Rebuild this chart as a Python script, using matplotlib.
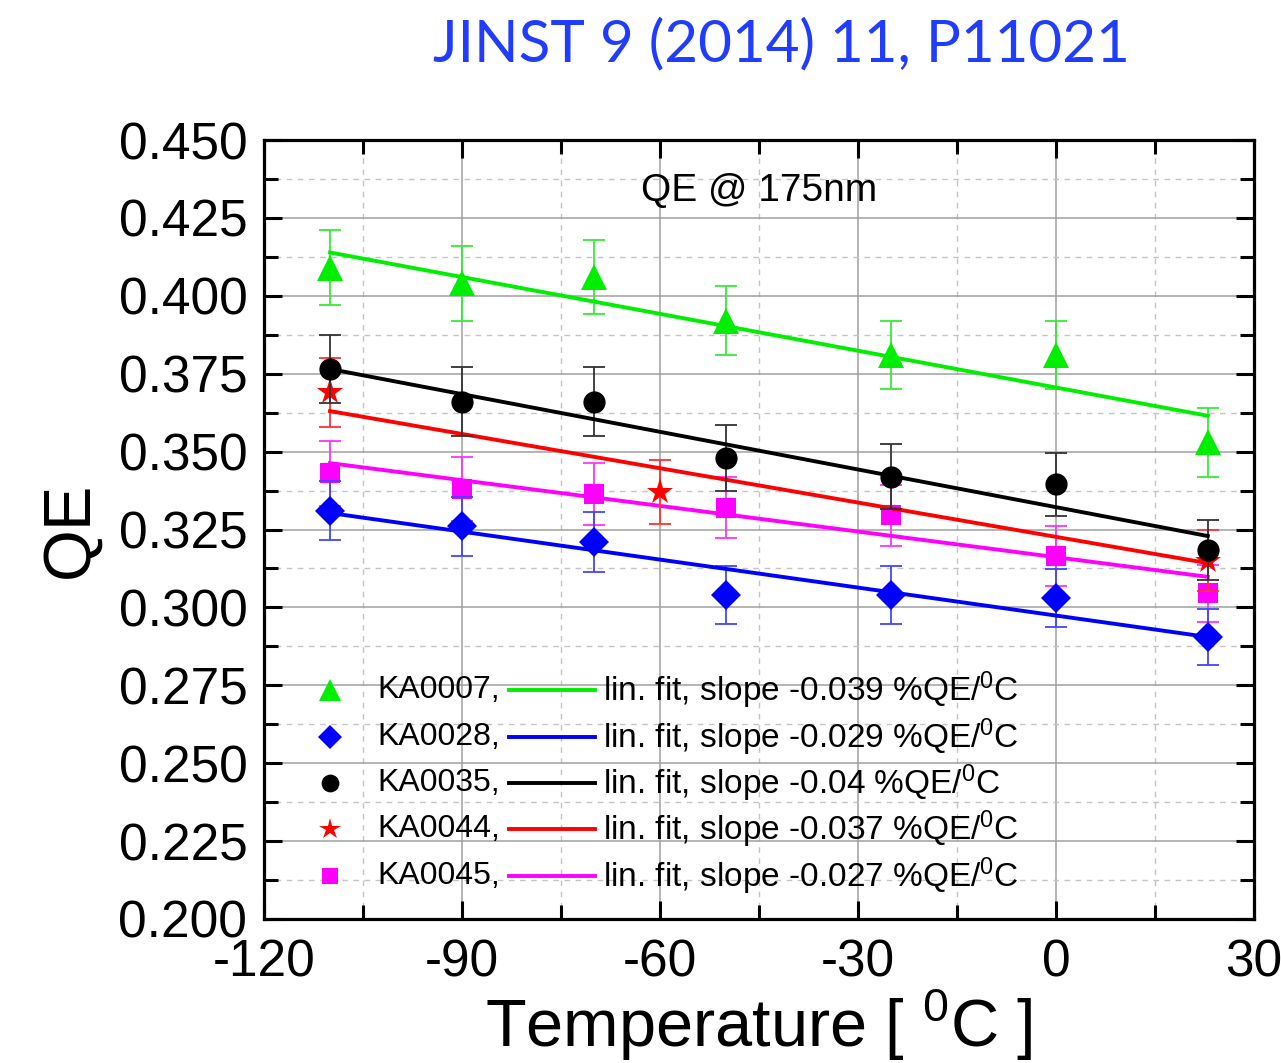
import matplotlib
matplotlib.use("Agg")
import matplotlib.pyplot as plt
from matplotlib.ticker import MultipleLocator
import numpy as np

plt.rcParams['font.family'] = ['Liberation Sans', 'DejaVu Sans']
plt.rcParams['mathtext.fontset'] = 'custom'
plt.rcParams['mathtext.rm'] = 'Liberation Sans'
plt.rcParams['mathtext.it'] = 'Liberation Sans'

# ---------------- data ----------------
temps = [-110, -90, -70, -50, -25, 0, 23]
temps_ka0044 = [-110, -60, 23]

names = ["KA0007", "KA0028", "KA0035", "KA0044", "KA0045"]
slopes = ["-0.039", "-0.029", "-0.04", "-0.037", "-0.027"]

qe_ka0007 = [0.409, 0.404, 0.406, 0.392, 0.381, 0.381, 0.353]
err_ka0007 = [0.012, 0.012, 0.012, 0.011, 0.011, 0.011, 0.011]
qe_ka0028 = [0.331, 0.326, 0.321, 0.304, 0.304, 0.303, 0.2905]
err_ka0028 = [0.0095, 0.0095, 0.0095, 0.0093, 0.0093, 0.0092, 0.009]
qe_ka0035 = [0.3765, 0.366, 0.366, 0.348, 0.342, 0.3395, 0.3185]
err_ka0035 = [0.011, 0.011, 0.011, 0.0105, 0.0103, 0.0102, 0.0097]
qe_ka0044 = [0.369, 0.337, 0.315]
err_ka0044 = [0.011, 0.0102, 0.0097]
qe_ka0045 = [0.343, 0.338, 0.3365, 0.332, 0.3295, 0.3165, 0.3045]
err_ka0045 = [0.0103, 0.0102, 0.010, 0.0098, 0.0098, 0.0095, 0.0092]

# linear fit lines: QE at T_start and T_end
fit_T = [-110, 23]
fit_ka0007 = [0.4139, 0.3615]
fit_ka0028 = [0.3303, 0.2905]
fit_ka0035 = [0.3765, 0.3229]
fit_ka0044 = [0.3630, 0.3142]
fit_ka0045 = [0.3463, 0.3098]

xticks = [-120, -90, -60, -30, 0, 30]
yticks = [0.200, 0.225, 0.250, 0.275, 0.300, 0.325, 0.350, 0.375, 0.400, 0.425, 0.450]

# ---------------- figure ----------------
W, H = 1281, 1063
fig = plt.figure(figsize=(W / 100, H / 100), dpi=100)
ax = fig.add_axes([264 / W, 1 - 919 / H, (1254 - 264) / W, (919 - 140) / H])

ax.set_xlim(-120, 30)
ax.set_ylim(0.200, 0.450)

colors = {"KA0007": "#00ee00", "KA0028": "#0000ff", "KA0035": "#000000",
          "KA0044": "#ff0000", "KA0045": "#ff00ff"}
ecolors = {"KA0007": "#33ee33", "KA0028": "#4444ff", "KA0035": "#333333",
           "KA0044": "#ff3333", "KA0045": "#ff33ff"}
markers = {"KA0007": ("^", 19), "KA0028": ("D", 15), "KA0035": ("o", 16),
           "KA0044": ("*", 20), "KA0045": ("s", 14)}

series = [
    ("KA0045", temps, qe_ka0045, err_ka0045, fit_ka0045),
    ("KA0028", temps, qe_ka0028, err_ka0028, fit_ka0028),
    ("KA0044", temps_ka0044, qe_ka0044, err_ka0044, fit_ka0044),
    ("KA0035", temps, qe_ka0035, err_ka0035, fit_ka0035),
    ("KA0007", temps, qe_ka0007, err_ka0007, fit_ka0007),
]

for i, (name, T, qe, err, fit) in enumerate(series):
    m, ms = markers[name]
    ax.errorbar(T, qe, yerr=err, fmt='none', ecolor=ecolors[name],
                elinewidth=1.3, capsize=8, capthick=1.3, zorder=3 + i)
    ax.plot(fit_T, fit, color=colors[name], lw=2.8, zorder=3 + i)
    ax.plot(T, qe, linestyle='none', marker=m, markersize=ms,
            color=colors[name], markeredgewidth=0, zorder=3.5 + i)

# grid and ticks
ax.xaxis.set_minor_locator(MultipleLocator(15))
ax.yaxis.set_minor_locator(MultipleLocator(0.0125))
ax.set_yticks(yticks)
ax.set_yticklabels([f"{v:.3f}" for v in yticks])
ax.set_xticks(xticks)
ax.set_xticklabels([str(v) for v in xticks])

ax.grid(which='major', color='#a0a0a0', lw=1.1, ls='-', zorder=0)
ax.grid(which='minor', color='#c4c4c4', lw=1.0, ls=(0, (4, 4)), zorder=0)
ax.set_axisbelow(True)

ax.tick_params(which='both', direction='in', top=True, right=True,
               width=2.2, labelsize=37)
ax.tick_params(axis='y', pad=12)
ax.tick_params(axis='x', pad=14)
ax.tick_params(which='major', length=13)
ax.tick_params(which='minor', length=10)
for s in ax.spines.values():
    s.set_linewidth(2.3)

ax.set_ylabel("QE", fontsize=48, labelpad=12)
ax.set_xlabel(r"Temperature [ $^{0}$C ]", fontsize=48, labelpad=0)

ax.text(0.5, 0.935, "QE @ 175nm", transform=ax.transAxes, fontsize=28,
        ha='center', va='center', zorder=20)

# custom legend
leg_y = [0.294, 0.2336, 0.1746, 0.1155, 0.0552]
leg_order = ["KA0007", "KA0028", "KA0035", "KA0044", "KA0045"]
for yy, name, sl in zip(leg_y, leg_order, slopes):
    m, ms = markers[name]
    ax.plot([0.0667], [yy], transform=ax.transAxes, marker=m,
            markersize=ms * 0.8, color=colors[name], markeredgewidth=0,
            linestyle='none', zorder=20, clip_on=False)
    ax.text(0.115, yy, name + ",", transform=ax.transAxes, fontsize=23,
            ha='left', va='center', zorder=20)
    ax.plot([0.2475, 0.3343], [yy, yy], transform=ax.transAxes,
            color=colors[name], lw=2.8, zorder=20)
    ax.text(0.342, yy, r"lin. fit, slope " + sl + r" %QE/$^{0}$C",
            transform=ax.transAxes, fontsize=24, ha='left', va='center',
            zorder=20)

fig.text(781 / W, 1 - 45 / H, "JINST 9 (2014) 11, P11021", color='#1f3cff',
         fontsize=42, ha='center', va='center', family=['Lato', 'DejaVu Sans'])

fig.savefig("out.png", dpi=100)
